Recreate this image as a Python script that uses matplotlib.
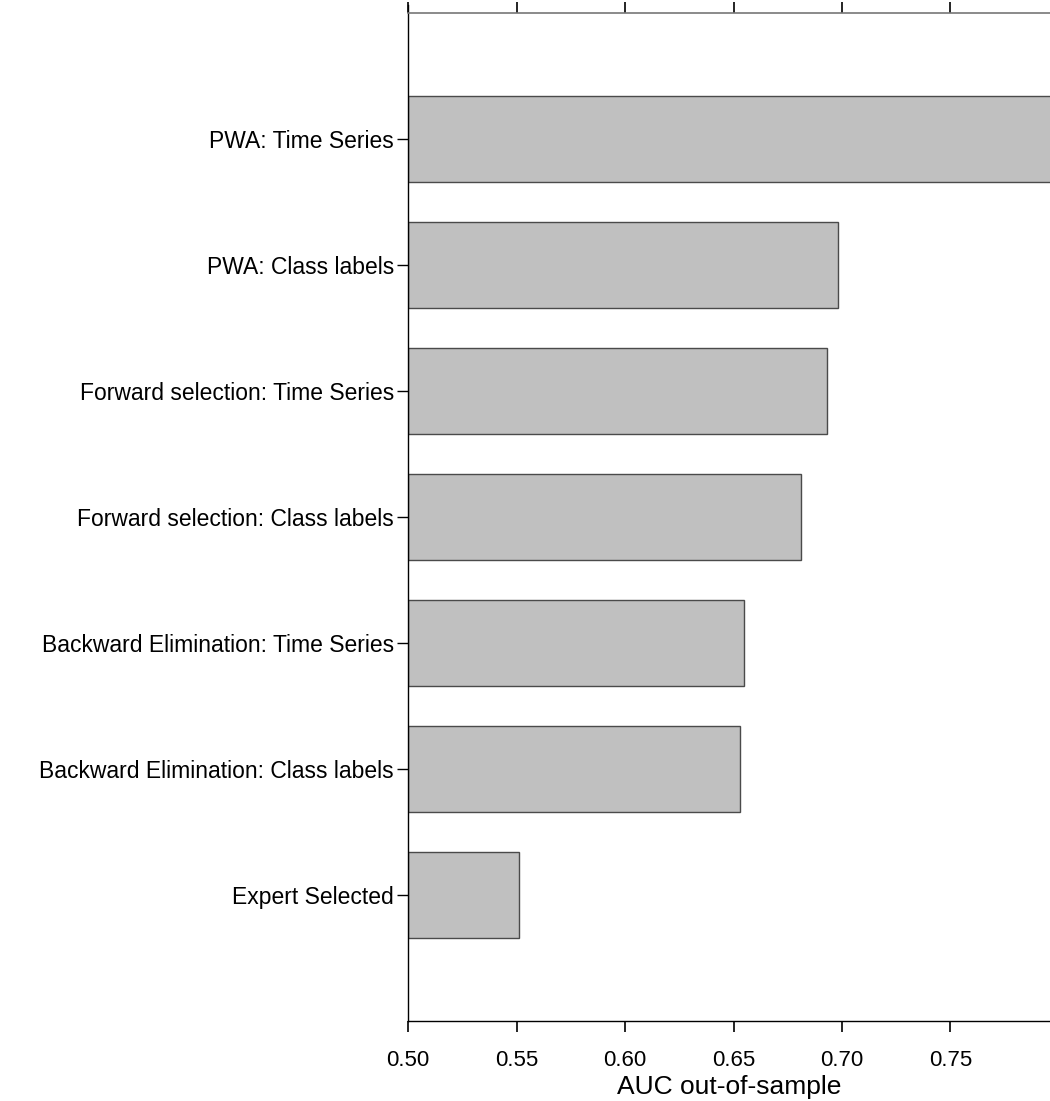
import matplotlib
matplotlib.use("Agg")
import matplotlib.pyplot as plt

plt.rcParams['font.family'] = ['Liberation Sans', 'DejaVu Sans']

# bottom to top
methods = [
    "Expert Selected",
    "Backward Elimination: Class labels",
    "Backward Elimination: Time Series",
    "Forward selection: Class labels",
    "Forward selection: Time Series",
    "PWA: Class labels",
    "PWA: Time Series",
]
auc = [0.551, 0.653, 0.655, 0.681, 0.693, 0.698, 0.810]

xticks = [0.50, 0.55, 0.60, 0.65, 0.70, 0.75]

fig = plt.figure(figsize=(10.5, 11.01), dpi=100)
ax = fig.add_axes([408 / 1050, 1 - 1021 / 1101, 642 / 1050, (1021 - 13) / 1101])

ypos = list(range(len(methods)))
ax.barh(ypos, [v - 0.5 for v in auc], left=0.5, height=0.676,
        color="#c0c0c0", edgecolor="#4a4a4a", linewidth=1.0)

ax.set_xlim(0.5, 0.5 + 642 / 2170)
ax.set_ylim(-1, 7)
ax.set_yticks(ypos)
ax.set_yticklabels(methods, fontsize=16.5)
ax.set_xticks(xticks)
ax.set_xticklabels([f"{t:.2f}" for t in xticks], fontsize=16)

ax.tick_params(axis="x", which="both", top=True, direction="out", length=8,
               width=1.2, pad=13)
ax.tick_params(axis="y", direction="out", length=8, width=1, pad=2)

ax.spines["right"].set_visible(False)
ax.spines["top"].set_color("#777777")
ax.spines["top"].set_linewidth(1.2)
ax.spines["left"].set_linewidth(1.0)
ax.spines["left"].set_bounds(-1, 7 + 8 / 126)
ax.spines["bottom"].set_linewidth(1.0)

ax.set_xlabel("AUC out-of-sample", fontsize=19)
ax.xaxis.set_label_coords(0.5, -(1087 - 1021) / 1008)
ax.xaxis.label.set_va("center")

fig.savefig("out.png", dpi=100)
